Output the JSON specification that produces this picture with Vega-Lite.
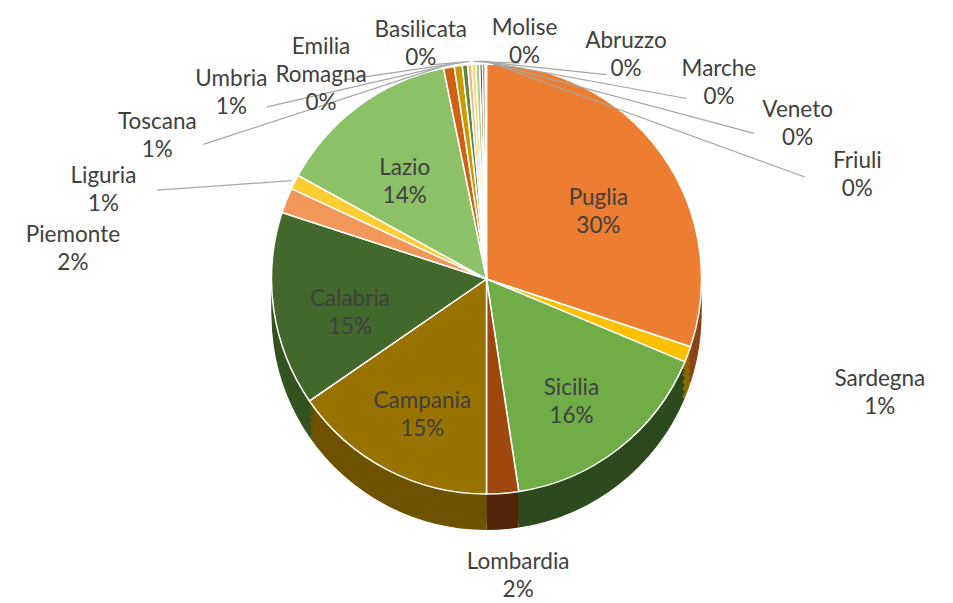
{
  "$schema": "https://vega.github.io/schema/vega-lite/v6.json",
  "width": 953,
  "height": 603,
  "autosize": {"type": "fit", "contains": "padding"},
  "padding": {"left": 20, "top": 0, "right": 0, "bottom": 23},
  "background": "white",
  "config": {"view": {"stroke": null}},
  "data": {
    "values": [
      {"region": "Puglia", "value": 30.1},
      {"region": "Sardegna", "value": 1.2},
      {"region": "Sicilia", "value": 16.3},
      {"region": "Lombardia", "value": 2.4},
      {"region": "Campania", "value": 15.4},
      {"region": "Calabria", "value": 14.6},
      {"region": "Piemonte", "value": 1.9},
      {"region": "Liguria", "value": 1.1},
      {"region": "Lazio", "value": 13.8},
      {"region": "Toscana", "value": 0.8},
      {"region": "Umbria", "value": 0.6},
      {"region": "Emilia Romagna", "value": 0.4},
      {"region": "Basilicata", "value": 0.3},
      {"region": "Molise", "value": 0.3},
      {"region": "Abruzzo", "value": 0.3},
      {"region": "Marche", "value": 0.2},
      {"region": "Veneto", "value": 0.2},
      {"region": "Friuli", "value": 0.1}
    ]
  },
  "transform": [
    {"window": [{"op": "row_number", "as": "idx"}]},
    {"joinaggregate": [{"op": "sum", "field": "value", "as": "total"}]},
    {"window": [{"op": "sum", "field": "value", "as": "cum"}], "sort": [{"field": "idx"}], "frame": [null, 0]},
    {"calculate": "datum.value / datum.total", "as": "pct"},
    {"calculate": "2 * PI * (datum.cum - datum.value / 2) / datum.total", "as": "mid"},
    {"calculate": "replace(datum.region, ' ', '\\n') + '\\n' + format(datum.pct, '.0%')", "as": "label"},
    {"calculate": "datum.pct >= 0.05 ? datum.label : ''", "as": "inLabel"},
    {"calculate": "datum.pct < 0.05 ? datum.label : ''", "as": "outLabel"},
    {"calculate": "datum.idx < 7 ? datum.mid : (-80 + 14.2 * (datum.idx - 7 - (datum.idx > 9 ? 1 : 0))) * PI / 180", "as": "t"},
    {"calculate": "420 * sin(datum.t)", "as": "lx"},
    {"calculate": "(cos(datum.t) >= 0 ? 252 : 284) * cos(datum.t)", "as": "ly"},
    {"calculate": "atan2(datum.lx, datum.ly)", "as": "la"},
    {"calculate": "sqrt(datum.lx * datum.lx + datum.ly * datum.ly)", "as": "lr"}
  ],
  "resolve": {"scale": {"color": "independent"}},
  "layer": [
    {
      "mark": {"type": "arc", "radius": 215, "yOffset": 36},
      "encoding": {
        "theta": {"field": "value", "type": "quantitative", "stack": true},
        "order": {"field": "idx", "type": "quantitative"},
        "color": {"field": "region", "type": "nominal", "legend": null,
          "scale": {"domain": ["Puglia","Sardegna","Sicilia","Lombardia","Campania","Calabria","Piemonte","Liguria","Lazio","Toscana","Umbria","Emilia Romagna","Basilicata","Molise","Abruzzo","Marche","Veneto","Friuli"],
                    "range": ["#8A4418","#8C6A00","#2C4A1E","#55250A","#6E5200","#33521F","#8A5530","#8C7020","#4E6E38","#74350A","#705400","#32501F","#8A6040","#8C7838","#5E7450","#4A2306","#463500","#1E3013"]}}
      }
    },
    {
      "mark": {"type": "arc", "radius": 215, "yOffset": 29},
      "encoding": {
        "theta": {"field": "value", "type": "quantitative", "stack": true},
        "order": {"field": "idx", "type": "quantitative"},
        "color": {"field": "region", "type": "nominal", "legend": null,
          "scale": {"domain": ["Puglia","Sardegna","Sicilia","Lombardia","Campania","Calabria","Piemonte","Liguria","Lazio","Toscana","Umbria","Emilia Romagna","Basilicata","Molise","Abruzzo","Marche","Veneto","Friuli"],
                    "range": ["#8A4418","#8C6A00","#2C4A1E","#55250A","#6E5200","#33521F","#8A5530","#8C7020","#4E6E38","#74350A","#705400","#32501F","#8A6040","#8C7838","#5E7450","#4A2306","#463500","#1E3013"]}}
      }
    },
    {
      "mark": {"type": "arc", "radius": 215, "yOffset": 22},
      "encoding": {
        "theta": {"field": "value", "type": "quantitative", "stack": true},
        "order": {"field": "idx", "type": "quantitative"},
        "color": {"field": "region", "type": "nominal", "legend": null,
          "scale": {"domain": ["Puglia","Sardegna","Sicilia","Lombardia","Campania","Calabria","Piemonte","Liguria","Lazio","Toscana","Umbria","Emilia Romagna","Basilicata","Molise","Abruzzo","Marche","Veneto","Friuli"],
                    "range": ["#8A4418","#8C6A00","#2C4A1E","#55250A","#6E5200","#33521F","#8A5530","#8C7020","#4E6E38","#74350A","#705400","#32501F","#8A6040","#8C7838","#5E7450","#4A2306","#463500","#1E3013"]}}
      }
    },
    {
      "mark": {"type": "arc", "radius": 215, "yOffset": 15},
      "encoding": {
        "theta": {"field": "value", "type": "quantitative", "stack": true},
        "order": {"field": "idx", "type": "quantitative"},
        "color": {"field": "region", "type": "nominal", "legend": null,
          "scale": {"domain": ["Puglia","Sardegna","Sicilia","Lombardia","Campania","Calabria","Piemonte","Liguria","Lazio","Toscana","Umbria","Emilia Romagna","Basilicata","Molise","Abruzzo","Marche","Veneto","Friuli"],
                    "range": ["#8A4418","#8C6A00","#2C4A1E","#55250A","#6E5200","#33521F","#8A5530","#8C7020","#4E6E38","#74350A","#705400","#32501F","#8A6040","#8C7838","#5E7450","#4A2306","#463500","#1E3013"]}}
      }
    },
    {
      "mark": {"type": "arc", "radius": 215, "yOffset": 8},
      "encoding": {
        "theta": {"field": "value", "type": "quantitative", "stack": true},
        "order": {"field": "idx", "type": "quantitative"},
        "color": {"field": "region", "type": "nominal", "legend": null,
          "scale": {"domain": ["Puglia","Sardegna","Sicilia","Lombardia","Campania","Calabria","Piemonte","Liguria","Lazio","Toscana","Umbria","Emilia Romagna","Basilicata","Molise","Abruzzo","Marche","Veneto","Friuli"],
                    "range": ["#8A4418","#8C6A00","#2C4A1E","#55250A","#6E5200","#33521F","#8A5530","#8C7020","#4E6E38","#74350A","#705400","#32501F","#8A6040","#8C7838","#5E7450","#4A2306","#463500","#1E3013"]}}
      }
    },
    {
      "mark": {"type": "arc", "radius": 215, "stroke": "white", "strokeWidth": 1.5},
      "encoding": {
        "theta": {"field": "value", "type": "quantitative", "stack": true},
        "order": {"field": "idx", "type": "quantitative"},
        "color": {"field": "region", "type": "nominal", "legend": null,
          "scale": {"domain": ["Puglia","Sardegna","Sicilia","Lombardia","Campania","Calabria","Piemonte","Liguria","Lazio","Toscana","Umbria","Emilia Romagna","Basilicata","Molise","Abruzzo","Marche","Veneto","Friuli"],
                    "range": ["#ED7D31","#FFC000","#70AD47","#9E480E","#997300","#43682B","#F1975A","#FFCD33","#8CC168","#D26012","#CC9A00","#5A8A39","#F4B183","#FFD966","#A9D18E","#843C0C","#7F6000","#375623"]}}
      }
    },
    {
      "transform": [
        {"filter": "datum.pct < 0.05 && datum.idx >= 8"},
        {"calculate": "width / 2 + 218 * sin(datum.mid)", "as": "sx"},
        {"calculate": "height / 2 - 218 * cos(datum.mid)", "as": "sy"},
        {"calculate": "width / 2 + 0.86 * datum.lx", "as": "ex"},
        {"calculate": "height / 2 - 0.86 * datum.ly", "as": "ey"}
      ],
      "mark": {"type": "rule", "color": "#A6A6A6", "strokeWidth": 1.2},
      "encoding": {
        "x": {"field": "sx", "type": "quantitative", "scale": null, "axis": null},
        "y": {"field": "sy", "type": "quantitative", "scale": null, "axis": null},
        "x2": {"field": "ex"},
        "y2": {"field": "ey"}
      }
    },
    {
      "mark": {"type": "text", "radius": 138, "font": "Lato", "fontSize": 22.5, "lineBreak": "\n", "lineHeight": 28, "color": "#404040"},
      "encoding": {
        "theta": {"field": "value", "type": "quantitative", "stack": true},
        "order": {"field": "idx", "type": "quantitative"},
        "text": {"field": "inLabel"}
      }
    },
    {
      "mark": {"type": "text", "font": "Lato", "fontSize": 22.5, "lineBreak": "\n", "lineHeight": 28, "color": "#404040"},
      "encoding": {
        "theta": {"field": "la", "type": "quantitative", "scale": null, "stack": null},
        "radius": {"field": "lr", "type": "quantitative", "scale": null},
        "text": {"field": "outLabel"}
      }
    }
  ]
}
